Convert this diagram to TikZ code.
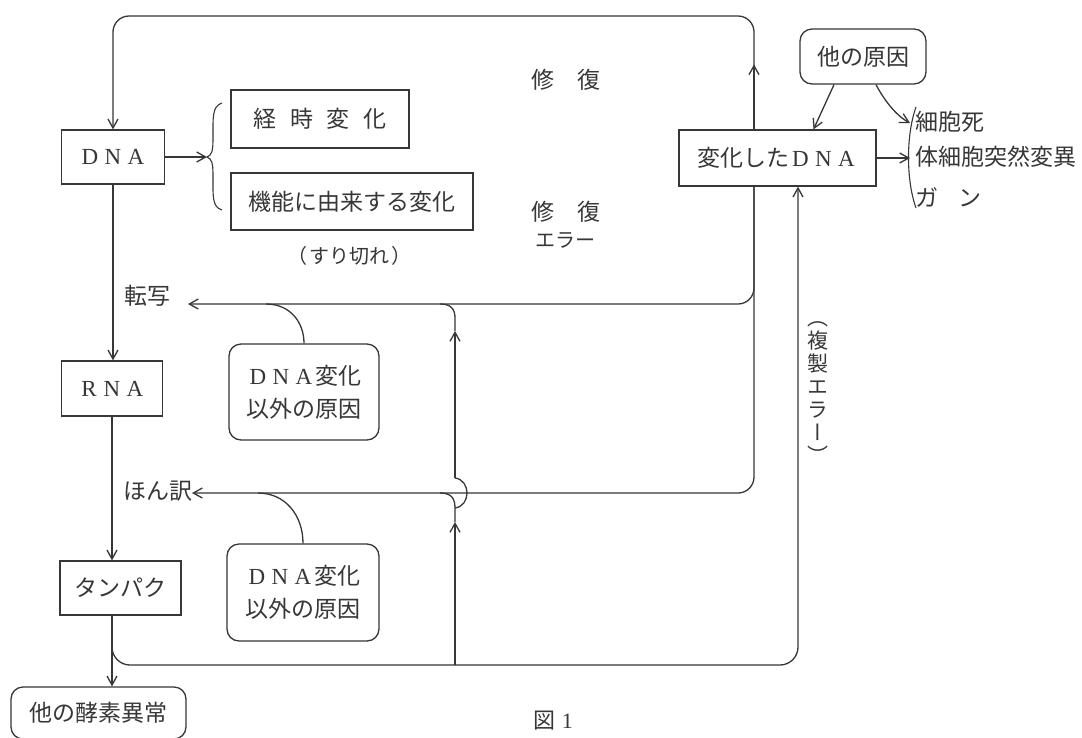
\documentclass[tikz,border=0pt]{standalone}
\usepackage{fontspec}
\usetikzlibrary{arrows.meta}
\newfontfamily\jp{Noto Sans CJK JP}
\newfontfamily\jpv[RawFeature=+vert]{Noto Sans CJK JP}
\newfontfamily\lat{Liberation Serif}
\newcommand\fw[1]{\makebox[1em]{\lat #1}}
\definecolor{ink}{RGB}{55,55,55}
\tikzset{
  conn/.style={draw=ink, line width=1.3pt},
  box/.style={draw=ink, line width=1.3pt, rectangle, inner sep=0pt, text=ink,
    font=\jp\fontsize{23}{33}\selectfont, align=center},
  rbox/.style={box, rounded corners=12pt},
  lbl/.style={inner sep=0pt, text=ink, font=\jp\fontsize{23}{33}\selectfont},
  slbl/.style={inner sep=0pt, text=ink, font=\jp\fontsize{20}{24}\selectfont},
  >={Straight Barb[length=9pt,width=10pt]}
}
\begin{document}
\begin{tikzpicture}[x=1pt,y=-1pt]
\useasboundingbox (0,0) rectangle (1082,737);
\fill[white] (0,0) rectangle (1082,737);
\clip (0,0) rectangle (1082,737);

% nodes
\node[box, minimum width=103pt, minimum height=54pt] (dna) at (113,157) {\fw{D}\fw{N}\fw{A}};
\node[box, minimum width=101pt, minimum height=55pt] (rna) at (112,388.5) {\fw{R}\fw{N}\fw{A}};
\node[box, minimum width=121pt, minimum height=54pt] (tanpaku) at (120.5,588) {タンパク};
\node[rbox, minimum width=175pt, minimum height=52pt] (enzyme) at (98.5,713) {他の酵素異常};
\node[box, minimum width=178pt, minimum height=58pt] (keiji) at (320,119) {経\hspace{0.6em}時\hspace{0.6em}変\hspace{0.6em}化};
\node[box, minimum width=242pt, minimum height=57pt] (kino) at (352,201.5) {機能に由来する変化};
\node[slbl] (suri) at (349,256) {（\hspace{0.1em}すり切れ\hspace{0.1em}）};
\node[box, minimum width=197pt, minimum height=56pt] (chdna) at (777.5,158) {変化した\fw{D}\fw{N}\fw{A}};
\node[rbox, minimum width=126pt, minimum height=55pt] (other) at (863,56.5) {他の原因};
\node[rbox, minimum width=150pt, minimum height=96pt] (cause1) at (304,392) {\fw{D}\fw{N}\fw{A}変化\\以外の原因};
\node[rbox, minimum width=152pt, minimum height=97pt] (cause2) at (303,592.5) {\fw{D}\fw{N}\fw{A}変化\\以外の原因};

% labels
\node[lbl] (tensha) at (147,296) {転写};
\node[lbl] (honyaku) at (158,491) {ほん訳};
\node[lbl] (shufuku1) at (566,80) {修\hspace{1em}復};
\node[lbl] (shufuku2) at (566,212) {修\hspace{1em}復};
\node[slbl] (error) at (565,240) {エラー};
\node[inner sep=0pt, text=ink, align=center, font=\jpv\fontsize{21}{23}\selectfont] (fukusei) at (818,393) {（\\複\\製\\エ\\ラ\\ー\\）};
\node[lbl, anchor=west] (saibo) at (915,122) {細胞死};
\node[lbl, anchor=west] (taisaibo) at (915,157) {体細胞突然変異};
\node[lbl, anchor=west] (gan) at (915,197) {ガ\hspace{0.9em}ン};
\node[inner sep=0pt, text=ink, font=\jp\fontsize{22}{26}\selectfont] (fig) at (553,721) {図\hspace{0.3em}{\lat 1}};

% coordinates
\coordinate (tr) at (754,16);
\coordinate (tl) at (dna.north |- tr);
\coordinate (tA) at (188,304);
\coordinate (hA) at (192,493);
\coordinate (xp) at (798,665);
\coordinate (b0) at (455,665);
\coordinate (b1) at (455,522);
\coordinate (b2) at (455,508);
\coordinate (b3) at (455,478);
\coordinate (b4) at (455,331);
\coordinate (b5) at (455,318);
\coordinate (jA) at (440,304);
\coordinate (jH) at (440,493);
\coordinate (c1j) at (266,304);
\coordinate (c2j) at (258,493);
\coordinate (brt) at (207,157);
\coordinate (br1) at (916,107);
\coordinate (br2) at (916,208);
\coordinate (bs) at (910,123);
\coordinate (bm) at (910,158);

% main chain
\draw[conn,->] (dna.south) -- (dna.south |- rna.north);
\draw[conn,->] (rna.south) -- (rna.south |- tanpaku.north);
\draw[conn,->] (tanpaku.south -| rna.south) -- (enzyme.north -| rna.south);

% DNA -> brace
\draw[conn,->] (dna.east) -- (brt);
\draw[conn, line width=1.1pt] (222,103) .. controls (212,106) and (213,118) .. (213,138)
  .. controls (213,151) and (212,155) .. (brt)
  .. controls (212,159) and (213,163) .. (213,176)
  .. controls (213,196) and (212,207) .. (222,210);

% repair loop
\draw[conn,->,rounded corners=16] (chdna.north -| tr) -- (tr) -- (tl) -- (dna.north);
\draw[conn,->] (chdna.north -| tr) -- ++(0,-65);

% repair error to transcription / translation
\draw[conn,->,rounded corners=16] (chdna.south -| tr) -- (tr |- tA) -- (tA);
\draw[conn,->,rounded corners=16] (chdna.south -| tr) -- (tr |- hA) -- (hA);

% causes other than DNA change
\draw[conn] (cause1.north) .. controls (304,322) and (290,304) .. (c1j);
\draw[conn] (cause2.north) .. controls (303,515) and (285,493) .. (c2j);

% replication error loop
\draw[conn,->,rounded corners=18] (tanpaku.south -| rna.south) -- (rna.south |- xp) -- (xp) -- (chdna.south -| xp);

% branch up at x=455
\draw[conn,->] (b0) -- (b1);
\draw[conn] (b1) -- (b2) .. controls (455,498) and (451,493) .. (jH);
\draw[conn] (b2) .. controls (471,506) and (471,480) .. (b3);
\draw[conn,->] (b3) -- (b4);
\draw[conn] (b4) -- (b5) .. controls (455,309) and (451,304) .. (jA);

% right side
\draw[conn,->] ([xshift=-29pt]other.south) -- ([xshift=36pt]chdna.north);
\draw[conn,->] ([xshift=13pt]other.south) .. controls (883,98) and (895,115) .. (bs);
\draw[conn,->] (chdna.east) -- (bm);
\draw[conn, line width=1.1pt] (br1) .. controls (906,135) and (906,180) .. (br2);
\end{tikzpicture}
\end{document}
